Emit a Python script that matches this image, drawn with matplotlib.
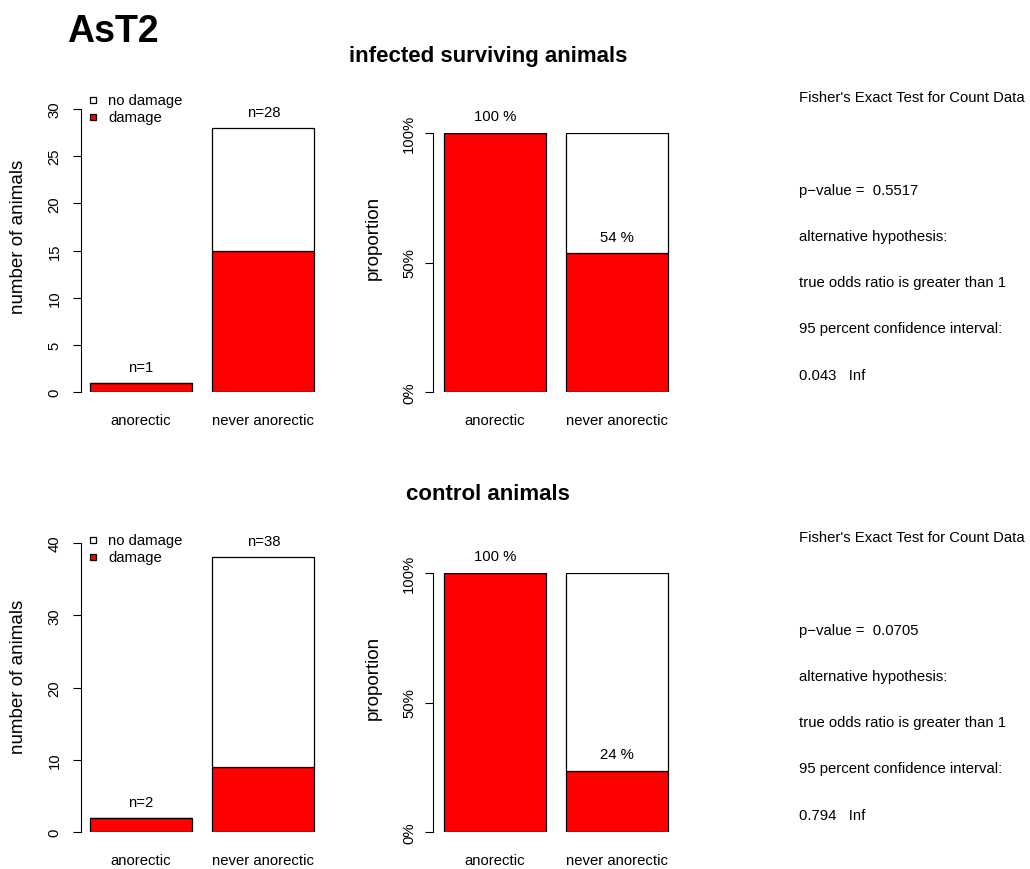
import matplotlib
matplotlib.use("Agg")
import matplotlib.pyplot as plt
import matplotlib.transforms as mtransforms
from matplotlib.lines import Line2D
import numpy as np

plt.rcParams['font.family'] = ['Liberation Sans', 'DejaVu Sans']

# data (counts of animals)
groups = ['anorectic', 'never anorectic']
infected_damage = [1, 15]
infected_nodamage = [0, 13]
control_damage = [2, 9]
control_nodamage = [0, 29]

infected_ticks = [0, 5, 10, 15, 20, 25, 30]
control_ticks = [0, 10, 20, 30, 40]

infected_test = ["Fisher's Exact Test for Count Data", "",
                 "p\u2212value =  0.5517", "alternative hypothesis:",
                 "true odds ratio is greater than 1",
                 "95 percent confidence interval:", "0.043   Inf"]
control_test = ["Fisher's Exact Test for Count Data", "",
                "p\u2212value =  0.0705", "alternative hypothesis:",
                "true odds ratio is greater than 1",
                "95 percent confidence interval:", "0.794   Inf"]

W, H = 1030, 870
fig = plt.figure(figsize=(W / 100, H / 100), dpi=100)
RED = '#ff0000'
SMALL = 10.7
PX = 102.0  # pixels per bar unit


def fx(px):
    return px / W


def fy(py):
    return 1 - py / H


def panel(left, right, top, bottom, x0, pad):
    ax = fig.add_axes([fx(left), fy(bottom), fx(right - left), (bottom - top) / H])
    ax.set_xlim((left - x0) / PX, (right - x0) / PX)
    for s in ['top', 'right', 'bottom']:
        ax.spines[s].set_visible(False)
    ax.spines['left'].set_linewidth(0.8)
    ax.tick_params(axis='y', length=5.5, width=0.8, pad=pad, labelsize=SMALL)
    ax.tick_params(axis='x', bottom=False, labelbottom=False)
    ax.patch.set_alpha(0)
    return ax


# bar positions like R barplot (width 1, space 0.2)
centers = np.array([0.7, 1.9])


def draw_pair(damage, nodamage, ticks, top_px, off):
    damage = np.array(damage, dtype=float)
    nodamage = np.array(nodamage, dtype=float)
    total = damage + nodamage

    # counts panel
    ax = panel(81, 335, top_px + off, 393 + off, 69.6, 8.5)
    ax.set_ylim(0, ticks[-1])
    ax.set_yticks(ticks)
    ax.set_yticklabels([str(t) for t in ticks], rotation=90, va='center')
    ax.bar(centers, damage, width=1, color=RED, edgecolor='black', linewidth=0.9)
    ax.bar(centers, nodamage, width=1, bottom=damage, color='white',
           edgecolor='black', linewidth=0.9)
    for c, t in zip(centers, total):
        ax.annotate('n=%d' % t, (c, t), xytext=(0, 11.5), textcoords='offset points',
                    ha='center', va='center', fontsize=SMALL, annotation_clip=False)
    trans = mtransforms.blended_transform_factory(ax.transData, fig.transFigure)
    for c, g in zip(centers, groups):
        ax.text(c, fy(421 + off), g, transform=trans,
                ha='center', va='center', fontsize=SMALL)
    fig.text(fx(19), fy(237 + off), 'number of animals', rotation=90,
             ha='center', va='center', fontsize=13.5)

    # legend
    for i, (lab, col) in enumerate([('no damage', 'white'), ('damage', RED)]):
        yy = fy(101 + off + i * 17)
        fig.add_artist(Line2D([fx(93)], [yy], marker='s', ls='', ms=4.3,
                              mfc=col, mec='black', mew=0.9,
                              transform=fig.transFigure))
        fig.text(fx(108), yy, lab, ha='left', va='center', fontsize=SMALL)

    # proportion panel
    prop = damage / total
    ax2 = panel(433, 689, 134 + off, 393 + off, 423.4, 6.5)
    ax2.set_ylim(0, 1)
    ax2.set_yticks([0, 0.5, 1])
    ax2.set_yticklabels(['0%', '50%', '100%'], rotation=90, va='center')
    ax2.bar(centers, prop, width=1, color=RED, edgecolor='black', linewidth=0.9)
    ax2.bar(centers, 1 - prop, width=1, bottom=prop, color='white',
            edgecolor='black', linewidth=0.9)
    for c, p in zip(centers, prop):
        ax2.annotate('%d %%' % round(p * 100), (c, p), xytext=(0, 12),
                     textcoords='offset points', ha='center', va='center',
                     fontsize=SMALL, annotation_clip=False)
    trans2 = mtransforms.blended_transform_factory(ax2.transData, fig.transFigure)
    for c, g in zip(centers, groups):
        ax2.text(c, fy(421 + off), g, transform=trans2,
                 ha='center', va='center', fontsize=SMALL)
    fig.text(fx(373), fy(238 + off), 'proportion', rotation=90,
             ha='center', va='center', fontsize=13.5)


draw_pair(infected_damage, infected_nodamage, infected_ticks, 110, 0)
draw_pair(control_damage, control_nodamage, control_ticks, 104, 440)

# Fisher test text
for lines, y0 in [(infected_test, 98), (control_test, 538)]:
    for i, line in enumerate(lines):
        if line:
            fig.text(fx(799), fy(y0 + 46.3 * i), line, ha='left', va='center',
                     fontsize=SMALL)

# titles
fig.text(fx(67), fy(42), 'AsT2', ha='left', va='baseline', fontsize=27,
         fontweight='bold')
fig.text(fx(488), fy(62), 'infected surviving animals', ha='center',
         va='baseline', fontsize=16, fontweight='bold')
fig.text(fx(488), fy(500), 'control animals', ha='center', va='baseline',
         fontsize=16, fontweight='bold')

fig.savefig('out.png', dpi=100)
